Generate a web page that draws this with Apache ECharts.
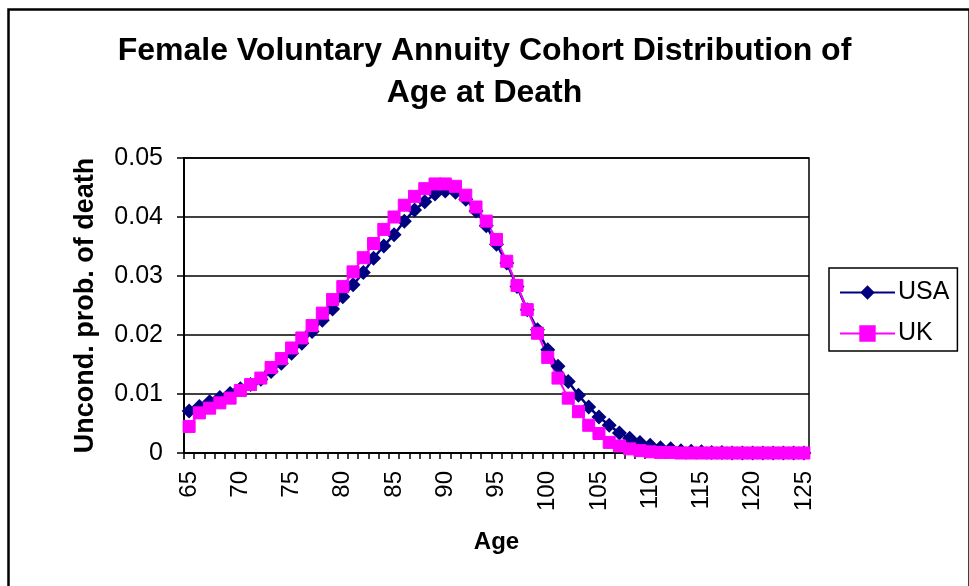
<!DOCTYPE html>
<html>
<head>
<meta charset="utf-8">
<script src="https://cdn.jsdelivr.net/npm/echarts@6/dist/echarts.min.js"></script>
<style>html,body{margin:0;padding:0;background:#fff;}#chart{width:969px;height:586px;}</style>
</head>
<body>
<div id="chart"></div>
<script>
const ages = [];
for (let a = 65; a <= 125; a++) ages.push(String(a));

const usa = [
  0.0071, 0.0079, 0.0087, 0.0094, 0.0101, 0.0109, 0.0116, 0.0125, 0.0138, 0.0152,
  0.0169, 0.0186, 0.0206, 0.0225, 0.0244, 0.0265, 0.0285, 0.0306, 0.0330, 0.0351,
  0.0370, 0.0393, 0.0412, 0.0426, 0.0439, 0.0444, 0.0442, 0.0430, 0.0410, 0.0385,
  0.0354, 0.0322, 0.0282, 0.0243, 0.0209, 0.0175, 0.0147, 0.0121, 0.0098, 0.0078,
  0.0061, 0.0047, 0.0034, 0.0025, 0.0018, 0.0013, 0.0009, 0.0007, 0.0004, 0.0003,
  0.0002, 0.0001, 0.0001, 0, 0, 0, 0, 0, 0, 0, 0
];
const uk = [
  0.0045, 0.0068, 0.0076, 0.0085, 0.0093, 0.0106, 0.0116, 0.0127, 0.0145, 0.0160,
  0.0178, 0.0195, 0.0216, 0.0237, 0.0260, 0.0282, 0.0307, 0.0331, 0.0355, 0.0379,
  0.0400, 0.0420, 0.0435, 0.0448, 0.0456, 0.0456, 0.0452, 0.0437, 0.0417, 0.0393,
  0.0362, 0.0325, 0.0284, 0.0243, 0.0203, 0.0162, 0.0127, 0.0093, 0.0070, 0.0047,
  0.0033, 0.0018, 0.0012, 0.0007, 0.0004, 0.0002, 0.0001, 0.0001, 0, 0,
  0, 0, 0, 0, 0, 0, 0, 0, 0, 0, 0
];
const seriesNames = ['USA', 'UK'];
const titleText = 'Female Voluntary Annuity Cohort Distribution of\nAge at Death';
const xName = 'Age';
const yName = 'Uncond. prob. of death';

const FONT = '"Liberation Sans", Arial, sans-serif';
const chart = echarts.init(document.getElementById('chart'), null, {renderer: 'canvas'});
chart.setOption({
  animation: false,
  backgroundColor: '#fff',
  graphic: [{
    type: 'rect', left: 6, top: 7,
    shape: {x: 0, y: 0, width: 961, height: 620},
    style: {fill: 'none', stroke: '#000', lineWidth: 2.5},
    silent: true
  }],
  title: {
    text: titleText, left: 'center', top: 30, padding: 0,
    textStyle: {fontFamily: FONT, fontSize: 32, fontWeight: 'bold', color: '#000', lineHeight: 42}
  },
  legend: {
    orient: 'vertical', left: 829, top: 268,
    padding: [12, 8, 5, 10], itemGap: 16, itemWidth: 55, itemHeight: 18,
    borderColor: '#000', borderWidth: 1.5,
    textStyle: {fontFamily: FONT, fontSize: 25, color: '#000', lineHeight: 25, padding: [0,0,0,-2]},
    data: seriesNames
  },
  grid: {left: 184, top: 158, right: 160, bottom: 133, show: true, borderColor: '#000', borderWidth: 1.5, containLabel: false},
  xAxis: {
    type: 'category', data: ages, boundaryGap: true,
    name: xName, nameLocation: 'middle', nameGap: 77,
    nameTextStyle: {fontFamily: FONT, fontSize: 24, fontWeight: 'bold', color: '#000'},
    axisLine: {lineStyle: {color: '#000', width: 2}},
    axisTick: {show: true, interval: 0, length: 6, inside: false, lineStyle: {color: '#000', width: 1.5}},
    axisLabel: {interval: 4, rotate: 90, margin: 18, fontFamily: FONT, fontSize: 24, color: '#000'},
    splitLine: {show: false}
  },
  yAxis: {
    type: 'value', min: 0, max: 0.05, interval: 0.01,
    name: yName, nameLocation: 'middle', nameGap: 85,
    nameTextStyle: {fontFamily: FONT, fontSize: 27, fontWeight: 'bold', color: '#000'},
    axisLine: {show: true, lineStyle: {color: '#000', width: 2}},
    axisTick: {show: true, length: 7, lineStyle: {color: '#000', width: 1.5}},
    axisLabel: {margin: 21, fontFamily: FONT, fontSize: 25, color: '#000',
      formatter: v => v === 0 ? '0' : v.toFixed(2)},
    splitLine: {show: true, lineStyle: {color: '#000', width: 1.5}}
  },
  series: [
    {
      name: seriesNames[0], type: 'line', data: usa,
      symbol: 'diamond', symbolSize: 15, showAllSymbol: true,
      itemStyle: {color: '#000080'},
      lineStyle: {color: '#000080', width: 2.5}
    },
    {
      name: seriesNames[1], type: 'line', data: uk,
      symbol: 'rect', symbolSize: 12, showAllSymbol: true,
      itemStyle: {color: '#ff00ff', borderColor: '#ff00ff', borderWidth: 1},
      lineStyle: {color: '#ff00ff', width: 2}
    }
  ]
});
</script>
</body>
</html>
